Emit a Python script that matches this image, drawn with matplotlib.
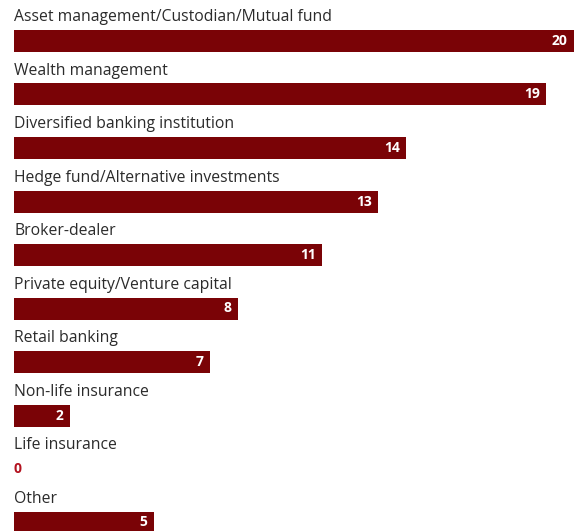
import matplotlib
matplotlib.use("Agg")
import matplotlib.pyplot as plt

categories = [
    "Asset management/Custodian/Mutual fund",
    "Wealth management",
    "Diversified banking institution",
    "Hedge fund/Alternative investments",
    "Broker-dealer",
    "Private equity/Venture capital",
    "Retail banking",
    "Non-life insurance",
    "Life insurance",
    "Other",
]
values = [20, 19, 14, 13, 11, 8, 7, 2, 0, 5]

BAR = "#7a0306"
ZERO = "#b3121f"
TEXT = "#2b2b2b"
FONT = "Open Sans"

W, H, DPI = 575, 531, 100
fig = plt.figure(figsize=(W / DPI, H / DPI), dpi=DPI)
left = 14 / W
ax = fig.add_axes([left, 0, 1 - left, 1])

row_px = 53.5
first_center = 41
ax.set_ylim((H - first_center) / row_px, -first_center / row_px)
ax.set_xlim(0, (W - 14) / 28)

pos = list(range(len(categories)))
ax.barh(pos, values, height=22 / row_px, color=BAR, align="center")

for i, (cat, v) in enumerate(zip(categories, values)):
    ax.text(0, i - 0.44, cat, ha="left", va="center", fontsize=11.3,
            color=TEXT, family=FONT)
    if v > 0:
        ax.annotate(str(v), xy=(v, i), xytext=(-4.5, 0), textcoords="offset points",
                    ha="right", va="center", fontsize=10, fontweight="bold",
                    color="white", family=FONT)
    else:
        ax.annotate(str(v), xy=(0, i), xytext=(0, 0), textcoords="offset points",
                    ha="left", va="center", fontsize=10, fontweight="bold",
                    color=ZERO, family=FONT)

ax.axis("off")
fig.savefig("out.png", dpi=DPI)
